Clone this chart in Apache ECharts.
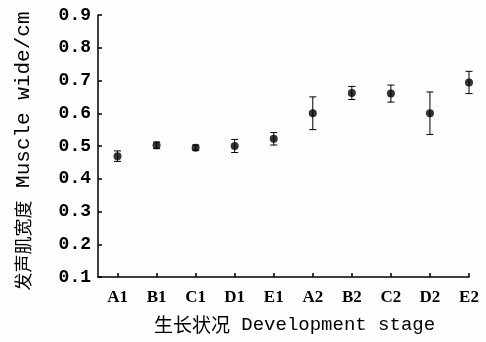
<!DOCTYPE html>
<html>
<head>
<meta charset="utf-8">
<script src="https://cdn.jsdelivr.net/npm/echarts@6/dist/echarts.min.js"></script>
<style>
html,body{margin:0;padding:0;background:#fdfdfd;}
#c{width:486px;height:342px;}
</style>
</head>
<body>
<div id="c"></div>
<script>
var categories = ['A1','B1','C1','D1','E1','A2','B2','C2','D2','E2'];
var means = [0.469, 0.502, 0.495, 0.500, 0.522, 0.600, 0.662, 0.660, 0.600, 0.694];
var errors = [0.016, 0.010, 0.008, 0.020, 0.019, 0.050, 0.020, 0.026, 0.065, 0.034];
var yTicks = [0.1, 0.9, 0.1]; // min, max, step

var pointData = means.map(function(v, i){ return [i, v]; });
var errData = means.map(function(v, i){ return [i, v - errors[i], v + errors[i]]; });
var xIdx = categories.map(function(c, i){ return i; });

var chart = echarts.init(document.getElementById('c'), null, {renderer:'canvas'});
chart.setOption({
  backgroundColor: '#fdfdfd',
  animation: false,
  grid: {left: 98, right: 17, top: 15, bottom: 65},
  xAxis: {
    type: 'value', min: -0.5, max: 9,
    splitLine: {show: false},
    axisLine: {show: true, onZero: false, lineStyle: {color: '#000', width: 1.5}},
    axisTick: {show: true, inside: true, length: 4, customValues: xIdx, lineStyle: {color: '#000', width: 1.5}},
    axisLabel: {
      customValues: xIdx, margin: 12,
      formatter: function(v){ return categories[Math.round(v)] || ''; },
      fontFamily: 'Liberation Serif', fontWeight: 'bold', fontSize: 17, color: '#000'
    },
    name: '{zh|生长状况}{en| Development stage}',
    nameLocation: 'middle', nameGap: 38,
    nameTextStyle: {
      padding: [0, 0, 0, 22],
      rich: {
        zh: {fontFamily: 'Noto Sans CJK SC', fontSize: 19, color: '#000'},
        en: {fontFamily: 'Liberation Mono', fontSize: 19, color: '#000'}
      }
    }
  },
  yAxis: {
    type: 'value', min: yTicks[0], max: yTicks[1], interval: yTicks[2],
    splitLine: {show: false},
    axisLine: {show: true, onZero: false, lineStyle: {color: '#000', width: 1.5}},
    axisTick: {show: true, inside: true, length: 4, lineStyle: {color: '#000', width: 1.5}},
    axisLabel: {
      margin: 7,
      formatter: function(v){ return v.toFixed(1); },
      fontFamily: 'Liberation Mono', fontWeight: 'bold', fontSize: 18, color: '#000'
    },
    name: '{zh|发声肌宽度}{en| Muscle wide/cm}',
    nameLocation: 'middle', nameGap: 64, nameRotate: 90,
    nameTextStyle: {
      padding: [0, 10, 0, 0],
      rich: {
        zh: {fontFamily: 'Noto Sans CJK SC', fontSize: 18, color: '#000'},
        en: {fontFamily: 'Liberation Mono', fontSize: 21, color: '#000'}
      }
    }
  },
  series: [
    {
      type: 'custom',
      data: errData,
      renderItem: function(params, api){
        var x = api.value(0);
        var lo = api.coord([x, api.value(1)]);
        var hi = api.coord([x, api.value(2)]);
        var hw = 3.5;
        var style = {stroke: '#000', lineWidth: 1};
        return {
          type: 'group',
          children: [
            {type: 'line', shape: {x1: lo[0], y1: lo[1], x2: hi[0], y2: hi[1]}, style: style},
            {type: 'line', shape: {x1: lo[0]-hw, y1: lo[1], x2: lo[0]+hw, y2: lo[1]}, style: style},
            {type: 'line', shape: {x1: hi[0]-hw, y1: hi[1], x2: hi[0]+hw, y2: hi[1]}, style: style}
          ]
        };
      },
      z: 1
    },
    {
      type: 'scatter',
      data: pointData,
      symbol: 'circle',
      symbolSize: 8,
      itemStyle: {color: '#000'},
      z: 2
    }
  ]
});
</script>
</body>
</html>
